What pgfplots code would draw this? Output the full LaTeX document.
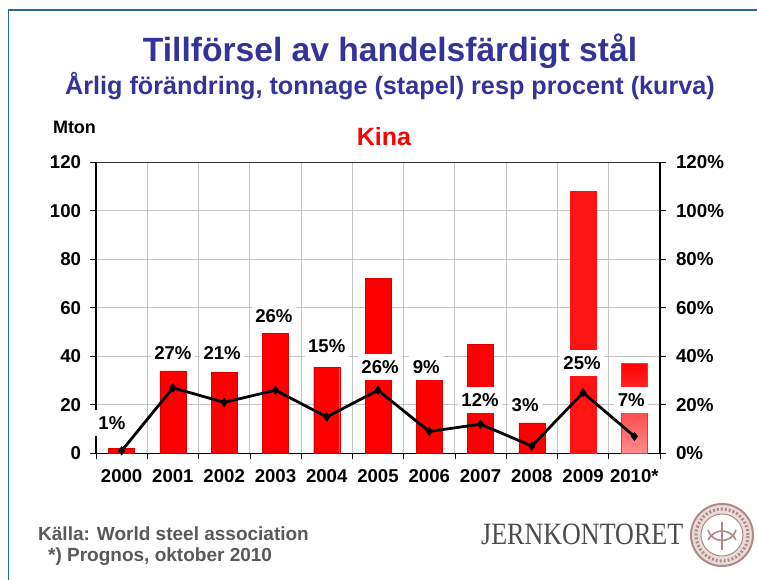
\documentclass[border=0pt]{standalone}
\usepackage{pgfplots}
\pgfplotsset{compat=1.18}
\usepackage{fontspec}
\setmainfont{Liberation Sans}
\newfontfamily\seriflogo{Liberation Serif}
\definecolor{titleblue}{HTML}{333399}
\definecolor{framec}{HTML}{2F6496}
\definecolor{gridc}{HTML}{C4C4C4}
\definecolor{footc}{HTML}{595959}
\definecolor{sealc}{HTML}{B08A84}
\newcommand{\fs}[1]{\fontsize{#1}{#1}\selectfont}
\begin{document}
\begin{tikzpicture}[x=1pt,y=1pt]
\useasboundingbox (0,0) rectangle (757,580);
\fill[white] (0,0) rectangle (757,580);
\draw[framec,line width=1.6pt] (8.5,0) -- (8.5,570) -- (757,570);
\node[text=titleblue,font=\bfseries\fs{33.6}] at (390,529) {Tillförsel av handelsfärdigt stål};
\node[text=titleblue,font=\bfseries\fs{25.2}] at (390,494) {Årlig förändring, tonnage (stapel) resp procent (kurva)};
\node[font=\bfseries\fs{18},anchor=center,inner sep=0pt] at (74.5,453) {Mton};
\node[text=red,font=\bfseries\fs{25}] at (384,443) {Kina};
% left axis: bars
\begin{axis}[
  at={(96pt,126.7pt)},anchor=south west,scale only axis,
  width=564pt,height=291pt,
  xmin=-0.5,xmax=10.5,ymin=0,ymax=120,
  axis y line*=left,axis x line*=bottom,
  axis line style={black,line width=1.3pt,-},
  xtick={0,1,2,3,4,5,6,7,8,9,10},
  xticklabels={2000,2001,2002,2003,2004,2005,2006,2007,2008,2009,2010*},
  minor xtick={-0.5,0.5,1.5,2.5,3.5,4.5,5.5,6.5,7.5,8.5,9.5,10.5},
  xminorgrids=true,ymajorgrids=true,
  minor grid style={gridc,line width=0.9pt},
  major grid style={gridc,line width=0.9pt},
  major x tick style={draw=none},
  minor x tick style={black,line width=0.5pt},
  minor tick length=6pt,
  major tick length=6pt,
  ytick={0,20,40,60,80,100,120},
  ytick style={black,line width=0.7pt},
  tick align=outside,
  /pgf/number format/assume math mode=true,
  tick label style={font=\bfseries\fs{18.6}},
  xticklabel style={yshift=-7pt},
  yticklabel style={xshift=-5.5pt},
]
\addplot[ybar,bar width=26pt,bar shift=0pt,fill=red,draw=red!85!black,line width=0.4pt]
 coordinates {(0,2) (1,34) (2,33.5) (3,49.5) (4,35.5) (5,72) (6,30.5) (7,45) (8,12.5)};
\addplot[ybar,bar width=26pt,bar shift=0pt,fill=red!92!white,draw=red!92!white,line width=0.4pt]
 coordinates {(9,108)};
\addplot[ybar,bar width=26pt,bar shift=0pt,top color=red,bottom color=red!45!white,draw=red!60!black!70!white,line width=0.4pt]
 coordinates {(10,37)};
\draw[black!80,line width=1pt] (rel axis cs:0,1) -- (rel axis cs:1,1);
\end{axis}
% right axis: annual change, per cent
\begin{axis}[
  at={(96pt,126.7pt)},anchor=south west,scale only axis,
  width=564pt,height=291pt,
  xmin=-0.5,xmax=10.5,ymin=0,ymax=120,
  axis y line*=right,axis x line=none,
  axis line style={black,line width=1.3pt,-},
  ytick={0,20,40,60,80,100,120},
  yticklabel={\pgfmathprintnumber{\tick}\%},
  ytick style={black,line width=0.7pt},
  major tick length=6pt,tick align=outside,
  /pgf/number format/assume math mode=true,
  tick label style={font=\bfseries\fs{18.8}},
  yticklabel style={xshift=6.5pt},
  clip=false,
]
\addplot[black,line width=2.8pt,mark=diamond*,mark size=2.4pt,mark options={solid,fill=black}]
 coordinates {(0,1) (1,27) (2,21) (3,26) (4,15) (5,26) (6,9) (7,12) (8,3) (9,25) (10,7)};
\addplot[draw=none,point meta=explicit symbolic,nodes near coords,
  nodes near coords align={center},
  every node near coord/.append style={anchor=center,fill=white,font=\bfseries\fs{18.6},
     inner xsep=3.5pt,inner ysep=0pt,minimum height=26pt,text=black}]
 coordinates {(-0.19,12.5) [1\%] (1,41.5) [27\%] (1.96,41.5) [21\%] (2.97,56.6) [26\%]
   (4,44.2) [15\%] (5.04,35.6) [26\%] (5.94,35.6) [9\%] (6.99,22) [12\%]
   (7.87,20) [3\%] (8.98,37.4) [25\%] (9.94,22) [7\%]};
\end{axis}
\node[text=footc,font=\bfseries\fs{19},anchor=west,inner sep=0pt] at (38,46) {Källa: World steel association};
\node[text=footc,font=\bfseries\fs{19},anchor=west,inner sep=0pt] at (48,23) {*) Prognos, oktober 2010};
\node[text=black!70,font=\seriflogo\fs{31},anchor=base west,inner sep=0pt,xscale=0.84] at (481,35) {JERNKONTORET};
\draw[sealc,line width=2pt,fill=sealc!30!white] (722,45) circle (31);
\draw[sealc,line width=3pt,dash pattern=on 2pt off 2pt] (722,45) circle (26);
\draw[sealc,line width=1pt,fill=white] (722,45) circle (21);
\draw[sealc,line width=1.6pt] (722,30) -- (722,58) (708,50) .. controls (712,36) and (732,36) .. (736,50) (708,40) .. controls (714,52) and (730,52) .. (736,40);
\end{tikzpicture}
\end{document}
